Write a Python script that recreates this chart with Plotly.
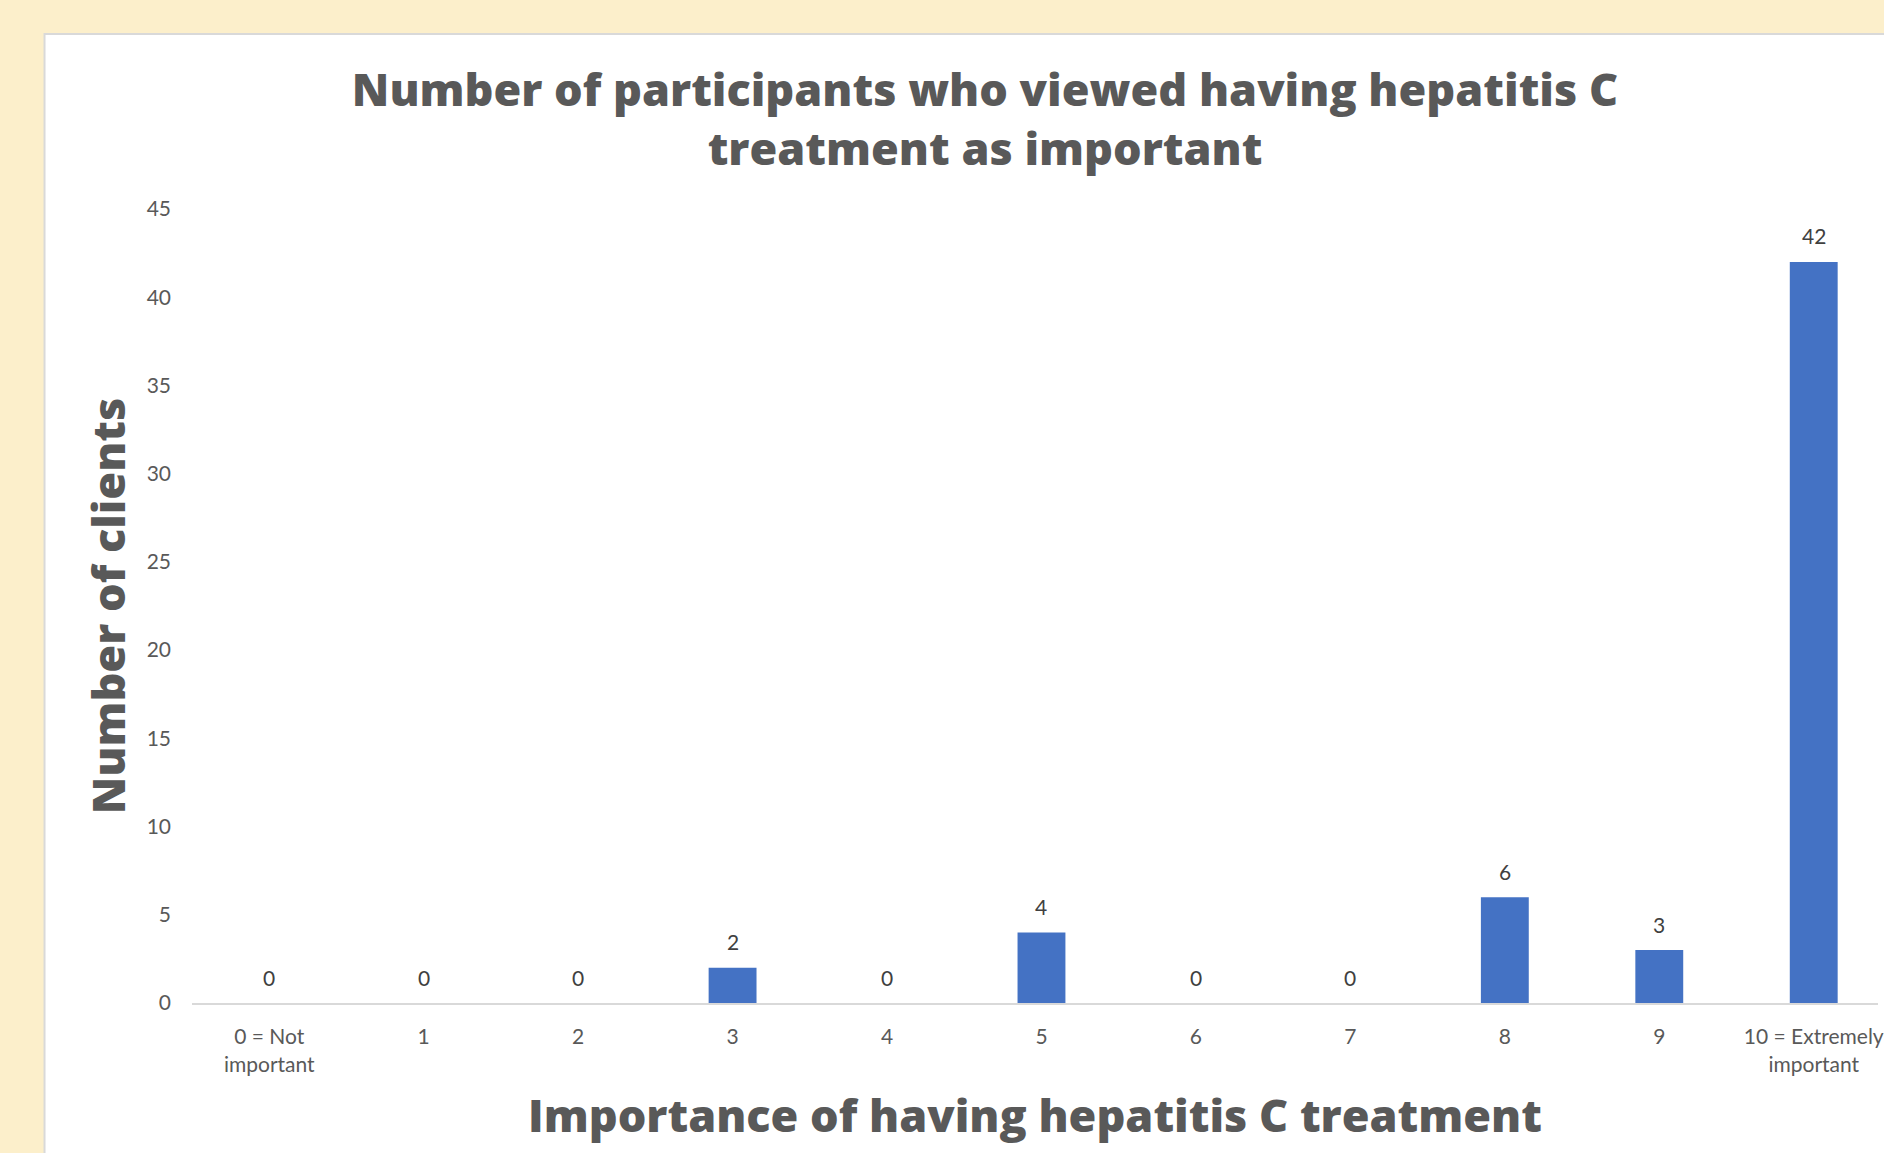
import plotly.graph_objects as go

# Survey responses: importance rating (0-10) vs number of clients
categories = ["0 = Not<br>important", "1", "2", "3", "4", "5", "6", "7", "8", "9",
              "10 = Extremely<br>important"]
clients = [0, 0, 0, 2, 0, 4, 0, 0, 6, 3, 42]
y_ticks = [0, 5, 10, 15, 20, 25, 30, 35, 40, 45]

W, H = 1884, 1153
L, R, T, B = 192, 0, 209, 150
plot_w = W - L - R
plot_h = H - T - B

BAR_BLUE = "#4472C4"
TEXT_GREY = "#595959"
LABEL_GREY = "#404040"
CREAM = "#FCEFCB"
BODY_FONT = "Lato"
HEAVY_FONT = "Open Sans"
HEAVY_SIZE = 45


def px_to_paper_x(px):
    return (px - L) / plot_w


def px_to_paper_y(py):
    return (H - B - py) / plot_h


fig = go.Figure()
fig.add_trace(go.Bar(
    x=categories,
    y=clients,
    marker=dict(color=BAR_BLUE, line=dict(width=0)),
    width=0.31,
    hoverinfo="x+y",
))

# value labels above each bar
for cat, val in zip(categories, clients):
    fig.add_annotation(
        x=cat, y=val, xref="x", yref="y",
        text=str(val), showarrow=False,
        yanchor="middle", yshift=26,
        font=dict(family=BODY_FONT, size=21, color=LABEL_GREY),
    )

# white chart panel on the cream page
fig.add_shape(
    type="rect", xref="paper", yref="paper", layer="below",
    x0=px_to_paper_x(44), x1=px_to_paper_x(W + 40),
    y0=px_to_paper_y(H + 40), y1=px_to_paper_y(34),
    fillcolor="white", line=dict(color="#D9D9D9", width=2),
)

fig.update_layout(
    width=W, height=H, autosize=False,
    margin=dict(l=L, r=R, t=T, b=B, pad=0),
    paper_bgcolor=CREAM,
    plot_bgcolor="rgba(0,0,0,0)",
    showlegend=False,
    title=dict(
        text="Number of participants who viewed having hepatitis C<br>treatment as important",
        x=985 / W, xref="container", xanchor="center",
        y=1 - 106 / H, yref="container", yanchor="middle",
        font=dict(family=HEAVY_FONT, size=HEAVY_SIZE, color=TEXT_GREY, weight=800),
    ),
    xaxis=dict(
        type="category",
        range=[-0.5, -0.5 + plot_w / 155.0],
        showline=True, linecolor="#D9D9D9", linewidth=2,
        showgrid=False, zeroline=False,
        ticks="", ticklabelstandoff=14,
        tickfont=dict(family=BODY_FONT, size=21, color=TEXT_GREY),
        title=dict(
            text="Importance of having hepatitis C treatment",
            font=dict(family=HEAVY_FONT, size=HEAVY_SIZE, color=TEXT_GREY, weight=800),
            standoff=26,
        ),
    ),
    yaxis=dict(
        range=[0, 45],
        tickvals=y_ticks,
        showgrid=False, zeroline=False, showline=False,
        ticks="", ticklabelstandoff=20,
        tickfont=dict(family=BODY_FONT, size=21, color=TEXT_GREY),
        title=dict(
            text="Number of clients",
            font=dict(family=HEAVY_FONT, size=HEAVY_SIZE, color=TEXT_GREY, weight=800),
            standoff=6,
        ),
    ),
)

fig.write_html("out.html")
